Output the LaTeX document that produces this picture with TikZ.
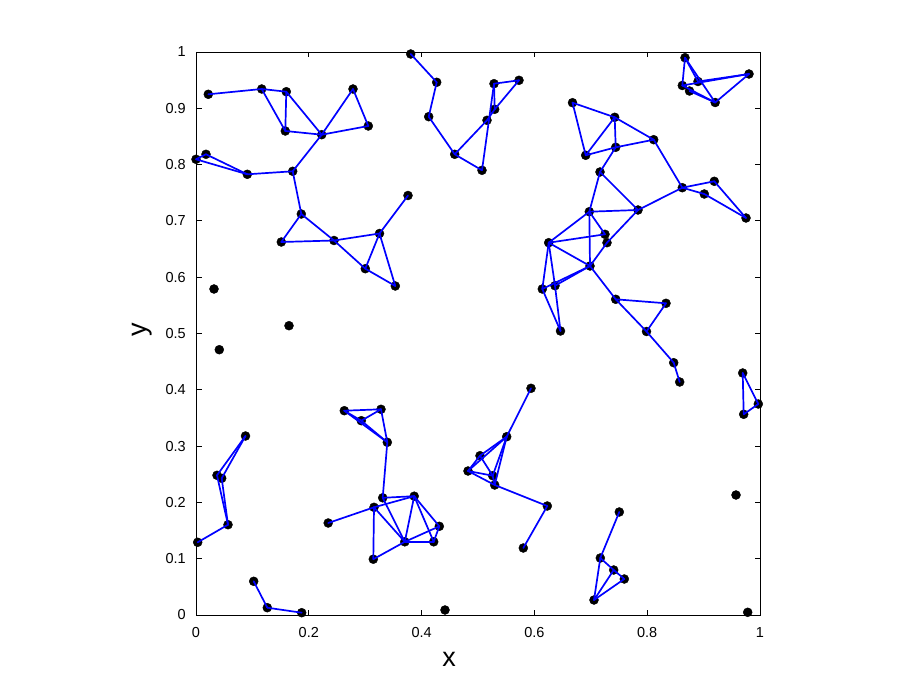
\documentclass[tikz,border=0pt]{standalone}
\usepackage{fontspec}
\setmainfont{Liberation Sans}
\begin{document}
\begin{tikzpicture}[x=1pt,y=-1pt,
  dot/.style={circle,fill=black,draw=black,inner sep=0pt,minimum size=9pt},
  edge/.style={draw={rgb,1:red,0;green,0;blue,1},line width=1.7pt,line cap=round},
  axisline/.style={draw=black,line width=0.8pt},
  ticklab/.style={font=\fontsize{14.5}{16}\selectfont,inner sep=0pt}]
\useasboundingbox[fill=white] (0,0) rectangle (921,692);
% axes box and ticks
\draw[axisline] (196,52) rectangle (760,615);
\foreach \l [count=\k from 0] in {0,0.2,0.4,0.6,0.8,1}{
  \draw[axisline] (196+112.8*\k,615) -- ++(0,-5.5);
  \draw[axisline] (196+112.8*\k,52) -- ++(0,5.5);
  \node[ticklab] (xt\k) at (196+112.8*\k,633) {\l};
}
\foreach \l [count=\k from 0] in {0,0.1,0.2,0.3,0.4,0.5,0.6,0.7,0.8,0.9,1}{
  \draw[axisline] (196,615-56.3*\k) -- ++(5.5,0);
  \draw[axisline] (760,615-56.3*\k) -- ++(-5.5,0);
  \node[ticklab,anchor=east] (yt\k) at (186,615-56.3*\k) {\l};
}
\node[font=\fontsize{27}{30}\selectfont] (xlab) at (449,659) {x};
\node[font=\fontsize{27}{30}\selectfont,rotate=90] (ylab) at (142,330) {y};
% nodes
\foreach \n/\x/\y in {
 a1/208.3/94.3, a2/261.7/89, a3/286.3/91.7, a4/353/89, a5/285.3/131,
 a6/321.7/134.7, a7/368.3/126, a8/206/154.3, a9/196/159.3, a10/247.3/174.3,
 a11/292.7/171.3, a12/301.3/214, a13/334/240.5, a14/379.5/233.5, a15/281.3/242,
 a16/365.3/268.7, a17/395.3/286, a18/408/195.5,
 b1/410.7/54, b2/436.7/82.3, b3/428.7/116.7, b4/454.7/154.3, b5/482/170.3,
 b6/487/120.3, b7/494.7/109.3, b8/494/83.7, b9/519/80.3,
 c1/572.5/102.7, c2/614.7/117.3, c3/653.7/139.7, c4/615.7/147.3, c5/585.7/155.3,
 c6/600/172, c7/682.3/187.7, c8/714.3/181.3, c9/704.3/194, c10/746/218,
 c11/638/210, c12/589.3/211.7, c13/605/234.3, c13b/607/242.7,
 c14/685/57.7, c15/749/74, c16/698/81.5, c17/682.3/85.5, c18/689.5/91, c19/715.2/102.5,
 d1/548.7/242.7, d2/590/266, d3/555/285.7, d4/542.3/289, d5/560.5/331,
 d6/615.7/299.3, d7/666/303.3, d8/646.5/331.5, d9/673.7/362.7, d10/679.7/382,
 e1/742.7/373, e2/758.3/404, e3/743.7/414.3,
 f1/245.5/436, f2/217/475.3, f3/221.7/478.3, f4/228/524.7, f5/197.7/542.3,
 f6/253.7/581.3, f7/267.3/607.7, f8/301.7/612.7,
 g1/344.3/410.7, g2/381/409.3, g3/361.3/420.7, g4/387.3/442.3, g5/382.7/497.8,
 g6/414.2/496.2, g7/374/507.3, g8/328.2/523, g9/439.3/526.3, g10/433.7/541.8,
 g11/404.8/541.8, g12/373.3/559.2,
 h1/531/388.3, h2/506.7/436.7, h3/480/455.7, h4/468/471, h5/492.7/475.7,
 h6/494.7/485, h7/547.3/506, h8/523.3/548,
 i1/619.3/512, i2/600.3/558, i3/613.7/570, i4/624.3/579, i5/594/600,
 z1/214/289, z2/289/325.7, z3/219.3/349.7, z4/445/610, z5/736/495, z6/747.7/612.3}
 {\node[dot] (\n) at (\x,\y) {};}
% edges
\foreach \p/\q in {
 a1/a2, a2/a3, a2/a5, a3/a5, a3/a6, a5/a6, a4/a6, a4/a7, a6/a7, a6/a11,
 a9/a8, a9/a10, a8/a10, a10/a11, a11/a12, a12/a13, a12/a15, a15/a13, a13/a14,
 a13/a16, a16/a14, a14/a17, a16/a17, a18/a14,
 b1/b2, b2/b3, b3/b4, b4/b5, b4/b6, b6/b7, b7/b9, b8/b9, b8/b7, b8/b5,
 c1/c2, c1/c5, c2/c4, c2/c5, c2/c3, c3/c4, c4/c5, c4/c6, c3/c7, c7/c8, c7/c9,
 c8/c10, c9/c10, c7/c11, c6/c11, c6/c12, c12/c11, c12/c13, c11/c13b, c12/d2,
 c12/d1, d1/c13, d1/d2, d1/d4, d1/d3, d4/d2, d3/d2, d4/d5, d3/d5, d2/c13b,
 d6/d2, d6/d7, d6/d8, d7/d8, d8/d9, d9/d10, e1/e2, e1/e3, e2/e3,
 c14/c17, c14/c16, c14/c19, c16/c15, c17/c15, c19/c15, c18/c19, c17/c19,
 f1/f2, f1/f3, f2/f4, f3/f4, f4/f5, f6/f7, f7/f8,
 g1/g2, g1/g3, g3/g2, g1/g4, g3/g4, g2/g4, g4/g5, g5/g6, g7/g6, g5/g11, g7/g11,
 g7/g12, g7/g8, g6/g11, g6/g10, g6/g9, g9/g11, g9/g10, g11/g10, g11/g12,
 h1/h2, h2/h3, h2/h4, h2/h5, h2/h6, h3/h4, h3/h5, h4/h5, h4/h6, h5/h6, h6/h7, h7/h8,
 i1/i2, i2/i3, i3/i4, i2/i5, i5/i3, i5/i4}
 {\draw[edge] (\p.center) -- (\q.center);}
\end{tikzpicture}
\end{document}
